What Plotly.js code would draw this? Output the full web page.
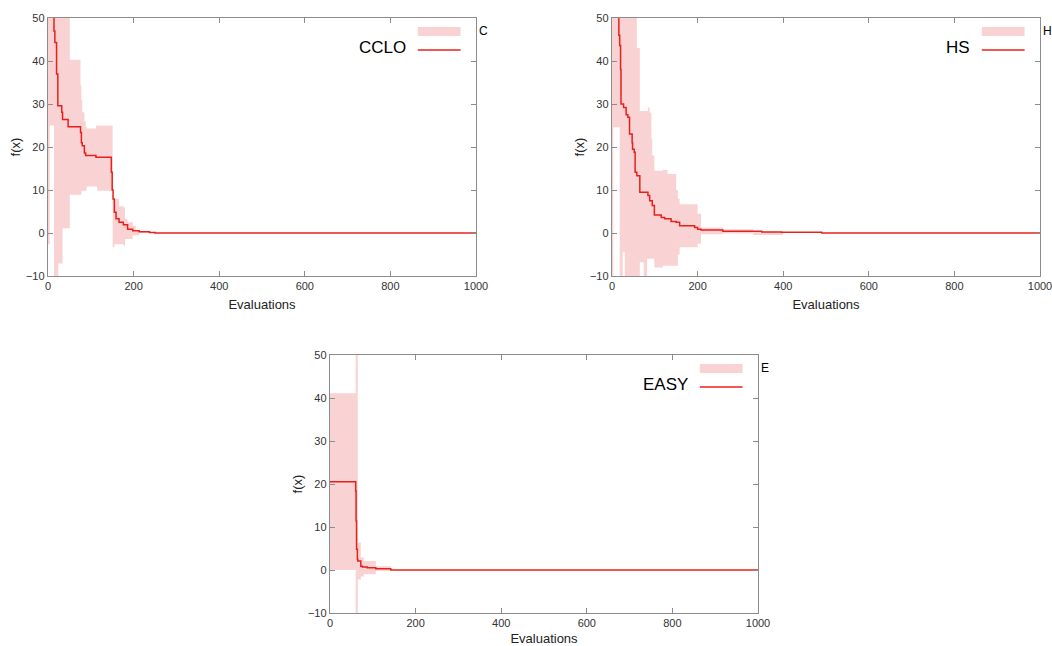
<!DOCTYPE html>
<html>
<head>
<meta charset="utf-8">
<script src="https://cdn.plot.ly/plotly-3.0.1.min.js"></script>
<style>html,body{margin:0;padding:0;background:#fff;}#chart{width:1052px;height:646px;}</style>
</head>
<body>
<div id="chart"></div>
<script>
// ---------- data ----------
const ccloX     = [0, 4, 14, 16, 20, 23, 24, 32, 34, 47, 51, 76, 78, 80, 85, 88, 90, 112, 115, 148, 150, 151, 152, 155, 159, 166, 176, 180, 186, 198, 205, 213, 237, 250, 1000];
const ccloMean  = [60, 60, 47, 44.3, 37, 29.6, 29.6, 28.1, 26.4, 24.7, 24.7, 23.4, 21, 20.3, 18.6, 18.0, 18.0, 17.6, 17.6, 14.1, 10, 10, 7.9, 4.8, 3.3, 2.5, 1.9, 1.9, 0.9, 0.5, 0.5, 0.3, 0.1, 0, 0];
const ccloLower = [-2.6, 25, -12, -12, -12, -12, -7.1, -7.1, 1.1, 1.1, 8.9, 8.9, 9.8, 9.8, 9.8, 9.8, 10.8, 10.8, 9.8, 9.8, 9.8, -3.3, -3.3, -2.6, -2.6, -2.6, -2.9, -1.4, -1.4, -0.6, -0.6, 0, 0, 0, 0];
const ccloUpper = [60, 60, 60, 60, 60, 60, 60, 60, 60, 60, 40.3, 34.3, 31, 28.1, 26, 24.7, 24.3, 25.0, 25.0, 25.0, 25.0, 7.9, 7.9, 7.9, 7.9, 6.2, 6.0, 3.3, 2.5, 1.7, 0.4, 0.4, 0.1, 0, 0];

const hsX     = [0, 3, 16, 18, 20, 21, 25, 27, 30, 33, 37, 41, 47, 48, 52, 54, 58, 65, 74, 82, 84, 88, 92, 94, 99, 115, 119, 123, 130, 138, 150, 154, 158, 193, 200, 208, 259, 330, 350, 396, 400, 490, 1000];
const hsMean  = [60, 60, 46, 43.6, 38, 30, 30, 29.2, 29.2, 27.5, 26.9, 23, 21, 19.5, 18.8, 14.1, 13.3, 9.5, 9.5, 9.5, 8.7, 7.5, 7.5, 6.4, 4.2, 3.6, 3.6, 3.3, 3.3, 2.7, 2.5, 2.5, 1.7, 1.3, 0.9, 0.7, 0.4, 0.4, 0.25, 0.15, 0.15, 0, 0];
const hsLower = [-15, 24.6, 24.6, -15, -15, -15, -4.5, -4.5, -15, -15, -15, -15, -15, -15, -15, -15, -15, -6.8, -15, -6.0, -6.0, -6.0, -6.0, -6.0, -8, -8, -7.6, -7.6, -7.6, -7.6, -7.6, -5, -3.3, -3.3, -2.5, -0.3, -0.1, -0.45, -0.45, -0.45, 0, 0, 0];
const hsUpper = [60, 60, 60, 60, 60, 60, 60, 60, 60, 60, 60, 60, 60, 60, 60, 60, 43, 28.4, 28.4, 28.4, 29.2, 28, 22, 18, 14.5, 14.5, 14.7, 14.7, 13.7, 13.7, 10, 8, 6.7, 6.7, 4.5, 1.3, 0.86, 0.3, 0.3, 0.3, 0.15, 0, 0];

const easyX     = [0, 60, 61, 62, 64, 65, 72, 76, 79, 87, 107, 142, 1000];
const easyMean  = [20.5, 18.4, 11.4, 4.8, 2.5, 2.1, 0.9, 0.7, 0.7, 0.5, 0.3, 0, 0];
const easyLower = [0, -15, -15, -15, -15, -2.2, -1.5, -1.5, -1.0, -1.0, -0.2, 0, 0];
const easyUpper = [41.1, 60, 60, 60, 60, 6.4, 2.9, 2.9, 2.1, 2.1, 0.9, 0, 0];

const panelNames = ['CCLO', 'HS', 'EASY'];
const cutLabels  = ['C', 'H', 'E'];
const xTicks = [0, 200, 400, 600, 800, 1000];
const yTicks = [-10, 0, 10, 20, 30, 40, 50];

// ---------- styling ----------
const BAND = '#f9d3d3';
const RED = '#e8201c';
const AX = '#8c8c8c';
const FONT = 'Liberation Sans, Arial, sans-serif';

const panels = [
  {x: ccloX, m: ccloMean, lo: ccloLower, up: ccloUpper, xa: 'x', ya: 'y'},
  {x: hsX, m: hsMean, lo: hsLower, up: hsUpper, xa: 'x2', ya: 'y2'},
  {x: easyX, m: easyMean, lo: easyLower, up: easyUpper, xa: 'x3', ya: 'y3'}
];

const data = [];
panels.forEach(p => {
  data.push({x: p.x, y: p.lo, xaxis: p.xa, yaxis: p.ya, type: 'scatter', mode: 'lines',
    line: {width: 0, shape: 'hv', color: BAND}, hoverinfo: 'skip', showlegend: false});
  data.push({x: p.x, y: p.up, xaxis: p.xa, yaxis: p.ya, type: 'scatter', mode: 'lines',
    line: {width: 0, shape: 'hv', color: BAND}, fill: 'tonexty', fillcolor: BAND, showlegend: false});
  data.push({x: p.x, y: p.m, xaxis: p.xa, yaxis: p.ya, type: 'scatter', mode: 'lines',
    line: {width: 1.5, shape: 'hv', color: RED}, showlegend: false});
});

function xAxis(domain, anchor) {
  return {domain: domain, anchor: anchor, range: [0, 1000], tickvals: xTicks,
    ticks: 'inside', ticklen: 5, tickcolor: AX, showline: true, linecolor: AX, linewidth: 1.2,
    mirror: 'allticks', showgrid: false, zeroline: false, ticklabeloverflow: 'allow',
    tickfont: {family: FONT, size: 11, color: '#333'},
    title: {text: 'Evaluations', font: {family: FONT, size: 13, color: '#222'}, standoff: 8}};
}
function yAxis(domain, anchor) {
  return {domain: domain, anchor: anchor, range: [-10, 50], tickvals: yTicks,
    ticks: 'inside', ticklen: 5, tickcolor: AX, showline: true, linecolor: AX, linewidth: 1.2,
    mirror: 'allticks', showgrid: false, zeroline: false, ticklabeloverflow: 'allow',
    tickfont: {family: FONT, size: 11, color: '#333'},
    title: {text: 'f(x)', font: {family: FONT, size: 13, color: '#222'}, standoff: 2}};
}

const W = 1052, H = 646;
const xd1 = [48 / W, 476 / W], xd2 = [612 / W, 1040 / W], xd3 = [330 / W, 758 / W];
const yd12 = [1 - 276 / H, 1 - 18 / H], yd3 = [1 - 613 / H, 1 - 355 / H];

const shapes = [], annotations = [];
['', '2', '3'].forEach((s, i) => {
  const xr = 'x' + s + ' domain', yr = 'y' + s + ' domain';
  shapes.push({type: 'rect', xref: xr, yref: yr, x0: 0.864, x1: 0.964, y0: 0.93, y1: 0.965,
    fillcolor: BAND, line: {width: 0}});
  shapes.push({type: 'line', xref: xr, yref: yr, x0: 0.864, x1: 0.964, y0: 0.876, y1: 0.876,
    line: {color: RED, width: 1.5}});
  annotations.push({xref: xr, yref: yr, x: 0.84, y: 0.884, xanchor: 'right', yanchor: 'middle',
    text: panelNames[i], showarrow: false, font: {family: FONT, size: 17, color: '#000'}});
  annotations.push({xref: xr, yref: yr, x: 1.003, y: 0.95, xanchor: 'left', yanchor: 'middle',
    text: cutLabels[i], showarrow: false, font: {family: FONT, size: 12, color: '#000'}});
});

const layout = {
  width: W, height: H, margin: {l: 0, r: 0, t: 0, b: 0},
  paper_bgcolor: '#fff', plot_bgcolor: '#fff', showlegend: false,
  xaxis: xAxis(xd1, 'y'), yaxis: yAxis(yd12, 'x'),
  xaxis2: xAxis(xd2, 'y2'), yaxis2: yAxis(yd12, 'x2'),
  xaxis3: xAxis(xd3, 'y3'), yaxis3: yAxis(yd3, 'x3'),
  shapes: shapes, annotations: annotations
};

Plotly.newPlot('chart', data, layout, {displayModeBar: false, staticPlot: true});
</script>
</body>
</html>
